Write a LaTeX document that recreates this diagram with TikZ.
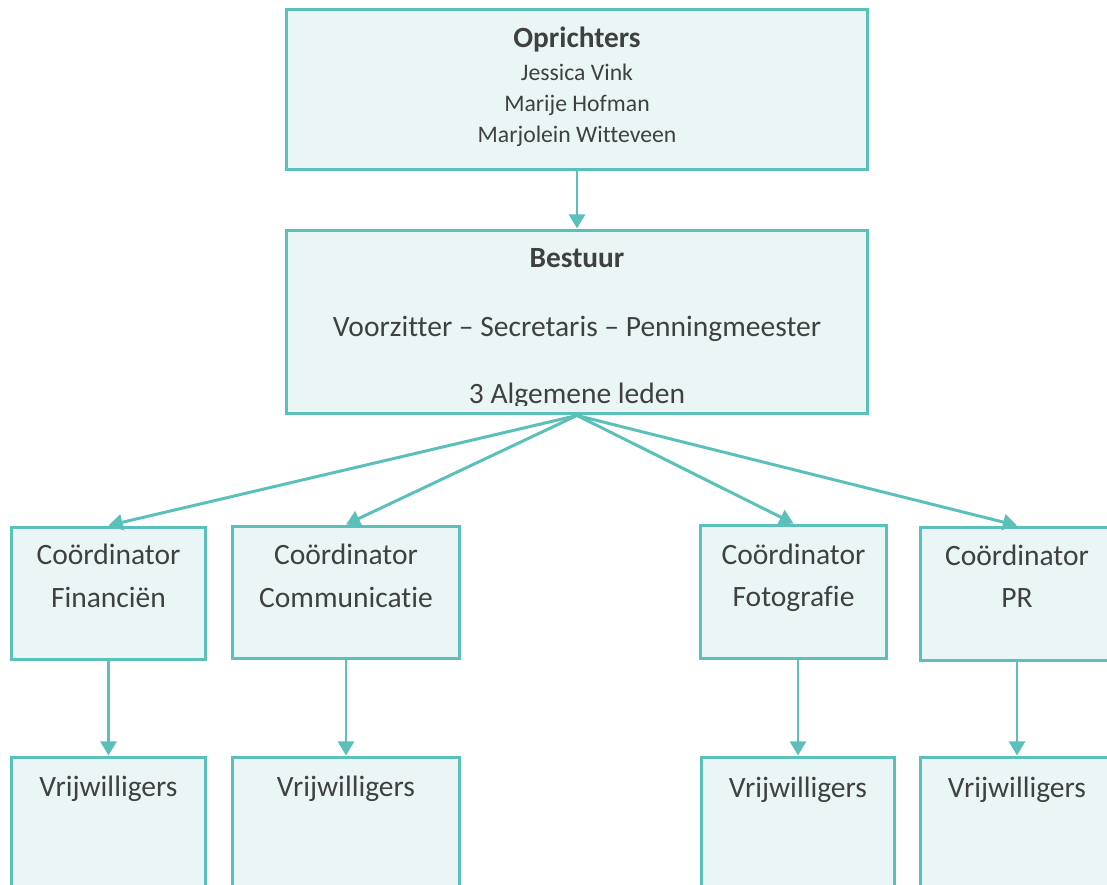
\documentclass[tikz,border=0pt]{standalone}
\usepackage{fontspec}
\setmainfont{Carlito}[Ligatures = NoCommon]
\usetikzlibrary{arrows.meta}

\definecolor{orgteal}{HTML}{5BBFBA}
\definecolor{orgfill}{HTML}{EAF6F6}
\definecolor{orgtext}{HTML}{404040}

\begin{document}
\begin{tikzpicture}[x = 0.02cm, y = -0.02cm,
	box/.style = {rectangle, draw = orgteal, fill = orgfill, line width = 1.7pt, inner sep = 0pt},
	link/.style = {draw = orgteal, line width = 1.7pt, -{Triangle[length = 8pt, width = 9pt]}},
	txt/.style = {text = orgtext, anchor = base, inner sep = 0pt, font = \fontsize{16.8pt}{20pt}\selectfont},
	txtsmall/.style = {txt, font = \fontsize{13.5pt}{16pt}\selectfont},
	txtbold/.style = {txt, font = \fontsize{16.7pt}{20pt}\selectfont\bfseries}]

\useasboundingbox (0, 0) rectangle (1107, 885);
\clip (0, 0) rectangle (1107, 885);



%%% Oprichters

\node [box, minimum width = 11.64cm, minimum height = 3.22cm] (oprichters) at (577, 89.5) {};

\node [txtbold] (oprichters-title) at (577, 48) {Oprichters};
\node [txtsmall] (oprichters-1) at (577, 81) {Jessica Vink};
\node [txtsmall] (oprichters-2) at (577, 112) {Marije Hofman};
\node [txtsmall] (oprichters-3) at (577, 143) {Marjolein Witteveen};



%%% Bestuur

\node [box, minimum width = 11.64cm, minimum height = 3.68cm] (bestuur) at (577, 322) {};

\node [txtbold] (bestuur-title) at (577, 268) {Bestuur};
\node [txt] (bestuur-1) at (577, 337) {Voorzitter – Secretaris – Penningmeester};

\begin{scope}
\clip (286, 230) rectangle (868, 406);
\node [txt] (bestuur-2) at (577, 404) {3 Algemene leden};
\end{scope}

\draw [link] (oprichters) -- (bestuur);



%%% Coordinatoren

\node [box, minimum width = 3.9cm, minimum height = 2.66cm] (coord-fin) at (108.5, 593.5) {};
\node [box, minimum width = 4.56cm, minimum height = 2.66cm] (coord-com) at (346, 592.5) {};
\node [box, minimum width = 3.72cm, minimum height = 2.68cm] (coord-foto) at (793.5, 592) {};
\node [box, minimum width = 3.88cm, minimum height = 2.68cm] (coord-pr) at (1017, 594) {};

\node [txt] (coord-fin-1) at (108.5, 565) {Coördinator};
\node [txt] (coord-fin-2) at (108.5, 607) {Financiën};

\node [txt] (coord-com-1) at (346, 565) {Coördinator};
\node [txt] (coord-com-2) at (346, 607) {Communicatie};

\node [txt] (coord-foto-1) at (793.5, 564) {Coördinator};
\node [txt] (coord-foto-2) at (793.5, 606) {Fotografie};

\node [txt] (coord-pr-1) at (1017, 566) {Coördinator};
\node [txt] (coord-pr-2) at (1017, 607) {PR};

\draw [link] (bestuur.south) -- (coord-fin.north);
\draw [link] (bestuur.south) -- (coord-com.north);
\draw [link] (bestuur.south) -- (coord-foto.north);
\draw [link] (bestuur.south) -- (coord-pr.north);



%%% Vrijwilligers

\node [box, minimum width = 3.9cm, minimum height = 4.86cm] (vrij-fin) at (108.5, 878.5) {};
\node [box, minimum width = 4.56cm, minimum height = 4.86cm] (vrij-com) at (346, 878.5) {};
\node [box, minimum width = 3.88cm, minimum height = 4.86cm] (vrij-foto) at (798, 878.5) {};
\node [box, minimum width = 3.88cm, minimum height = 4.86cm] (vrij-pr) at (1017, 878.5) {};

\node [txt] (vrij-fin-1) at (108.5, 796) {Vrijwilligers};
\node [txt] (vrij-com-1) at (346, 796) {Vrijwilligers};
\node [txt] (vrij-foto-1) at (798, 797) {Vrijwilligers};
\node [txt] (vrij-pr-1) at (1017, 797) {Vrijwilligers};

\draw [link] (coord-fin) -- (vrij-fin);
\draw [link] (coord-com) -- (vrij-com);
\draw [link] (coord-foto.south -| vrij-foto.north) -- (vrij-foto.north);
\draw [link] (coord-pr) -- (vrij-pr);

\end{tikzpicture}
\end{document}
